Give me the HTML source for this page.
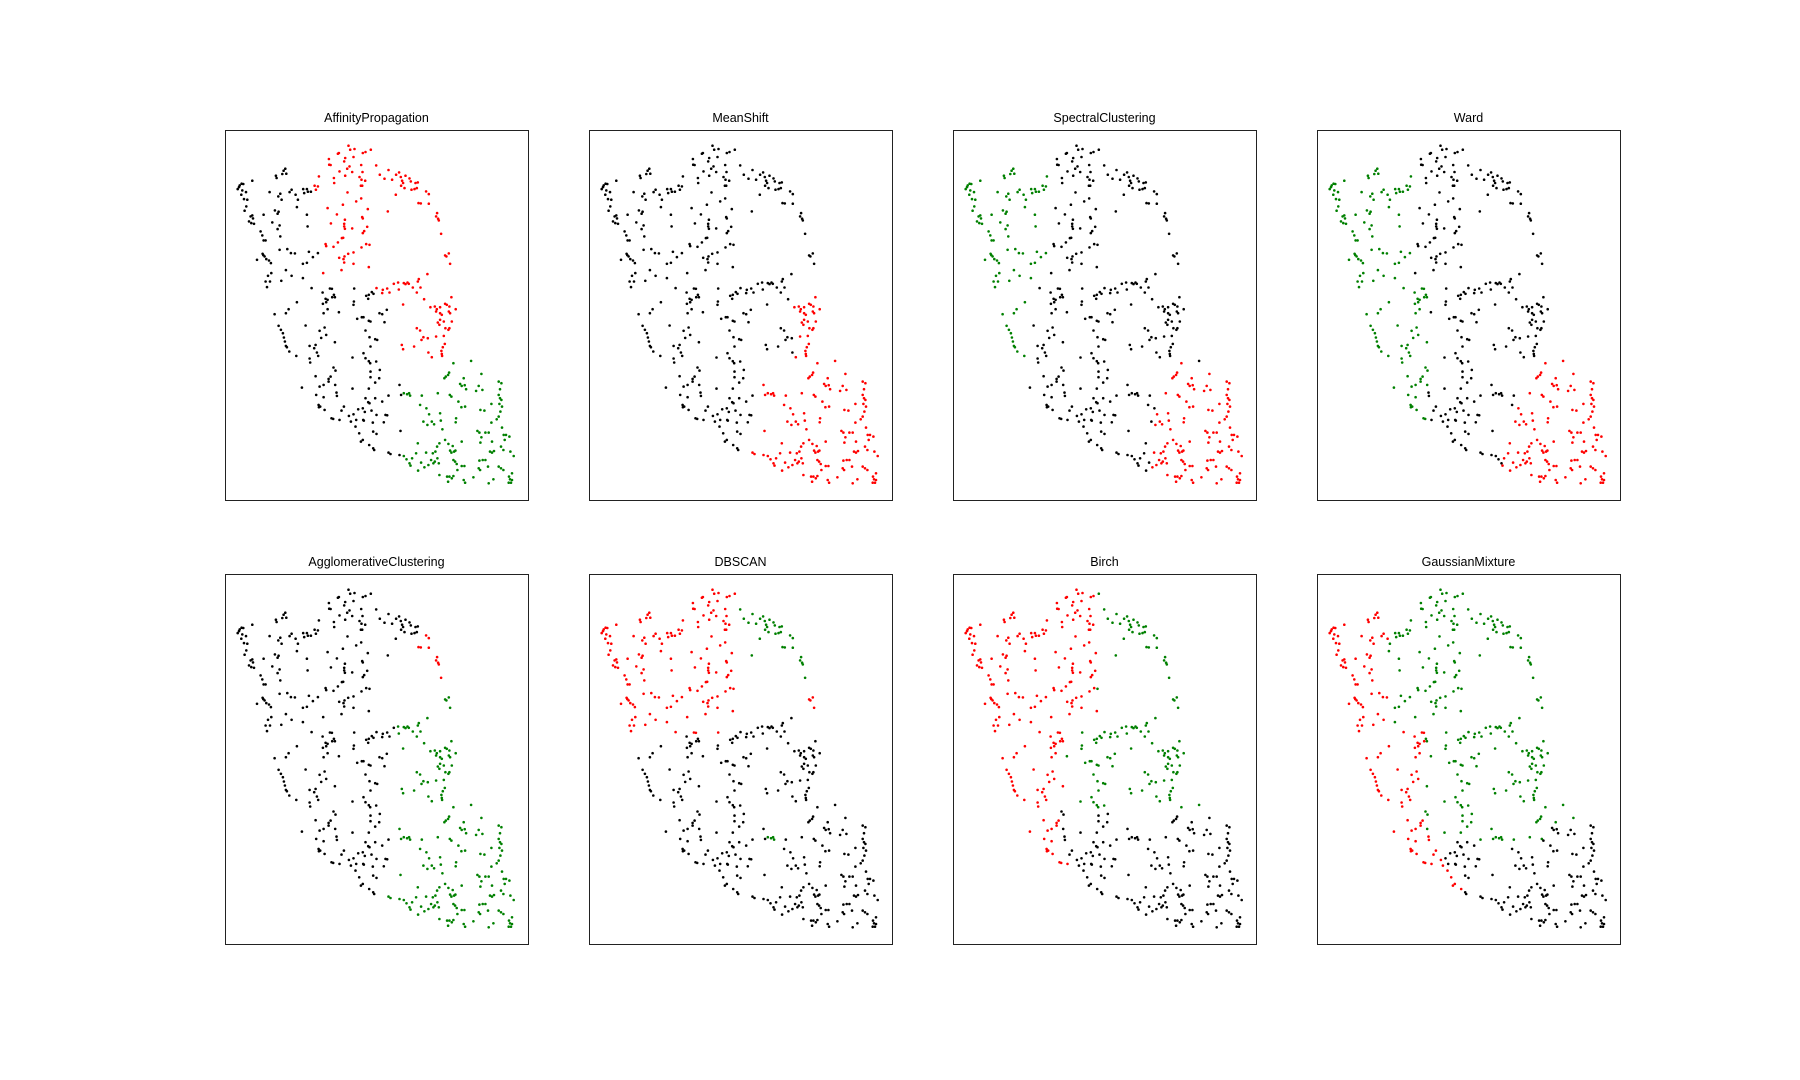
<!DOCTYPE html>
<html><head><meta charset="utf-8"><style>
html,body{margin:0;padding:0;background:#fff;}
svg{display:block;}
text{font-family:"Liberation Sans","DejaVu Sans",sans-serif;}
</style></head><body>
<svg id="fig" width="1800" height="1080" viewBox="0 0 1800 1080" xmlns="http://www.w3.org/2000/svg"></svg>
<script>
const titles = ["AffinityPropagation","MeanShift","SpectralClustering","Ward","AgglomerativeClustering","DBSCAN","Birch","GaussianMixture"];
const xDomain = [76, 986];
const yDomain = [91, 1200];
const points = [
[447,138],[452,150],[465,148],[415,162],[418,160],[498,157],[490,160],[514,150],[437,175],[462,172],[388,178],[434,185],[389,195],[393,196],[450,200],[485,196],[530,197],[420,215],[443,207],[458,217],[489,217],[437,228],[403,235],[480,232],[497,243],[486,240],[404,250],[488,258],[484,258],[358,230],[345,258],[355,260],[349,270],[541,225],[555,237],[567,211],[578,240],[590,225],[599,218],[604,232],[608,243],[618,228],[611,250],[605,258],[630,236],[634,245],[648,250],[655,248],[645,268],[652,265],[615,265],[636,270],[589,285],[680,275],[688,283],[657,310],[664,311],[688,312],[713,340],[710,350],[716,357],[718,362],[444,278],[485,296],[470,305],[430,315],[384,325],[505,328],[412,344],[565,335],[488,352],[490,356],[394,371],[436,360],[434,372],[434,380],[458,386],[503,381],[490,400],[494,394],[436,387],[725,402],[427,415],[431,414],[378,433],[380,439],[402,441],[415,428],[500,433],[510,435],[486,443],[462,458],[446,462],[435,470],[419,474],[432,478],[434,488],[462,492],[508,502],[426,511],[371,520],[737,467],[741,470],[748,461],[752,492],[684,523],
[531,565],[550,570],[548,580],[563,566],[570,578],[583,552],[596,548],[598,569],[613,550],[618,553],[624,548],[628,552],[640,563],[655,545],[658,538],[652,578],[663,563],[611,614],[674,598],[693,622],[706,620],[712,628],[710,635],[722,622],[737,612],[742,615],[750,620],[756,592],[769,628],[722,640],[727,645],[748,635],[752,640],[757,665],[733,665],[722,660],[715,668],[720,675],[738,685],[747,690],[750,685],[652,685],[662,692],[666,720],[672,712],[685,715],[710,710],[733,708],[736,732],[730,742],[726,753],[727,762],[728,768],[607,735],[611,748],[644,740],[687,758],[697,772],
[120,257],[126,252],[131,253],[118,262],[114,268],[128,272],[139,277],[125,285],[133,298],[143,300],[140,320],[135,333],[158,347],[153,350],[160,356],[148,365],[155,370],[163,372],[158,243],[229,228],[231,235],[252,213],[257,207],[248,223],[260,222],[210,277],[242,282],[236,290],[270,277],[276,270],[288,285],[295,300],[292,322],[311,268],[322,268],[314,280],[325,276],[334,276],[246,300],[226,332],[234,342],[237,336],[192,345],[218,368],[240,377],[234,388],[322,345],[324,380],[242,410],[183,395],[188,407],[192,422],[198,422],[189,462],[191,466],[195,470],[200,478],[172,480],[208,482],[214,490],[240,450],[263,448],[274,460],[286,461],[328,456],[355,460],[322,489],[310,492],[340,472],[259,511],[276,528],[310,535],[215,520],[205,528],[211,545],[198,545],[202,562],[245,543],[225,643],[267,628],[259,640],[292,607],[336,565],[369,578],[391,566],[397,567],[403,585],[378,597],[384,600],[380,607],[370,612],[398,592],[406,592],[372,640],[384,628],[418,637],[464,566],[463,605],[462,615],[500,588],[508,585],[517,577],[522,582],[506,597],[473,657],[487,652],[492,652],[508,663],[513,665],[540,640],[548,643],[555,667],[562,630],[237,678],[244,690],[250,700],[253,713],[256,725],[259,738],[262,742],[269,755],[290,768],[318,677],[360,693],[375,683],[380,705],[365,714],[330,738],[348,735],[344,745],[352,758],[356,768],[330,776],[332,788],[406,727],[498,692],[510,712],[527,718],[533,720],[513,740],[459,773],[492,760],[498,775],[508,784],[512,790],[530,785],[541,810],[539,835],[513,815],[513,832],[527,848],[508,866],[402,803],[408,812],[393,830],[387,837],[348,829],[360,860],[372,855],[387,845],[407,855],[307,863],[411,878],[412,888],[350,885],[372,892],[459,866],[357,915],[362,920],[375,930],[358,922],[433,920],[426,932],[448,948],[462,943],[476,928],[490,925],[496,936],[506,907],[510,910],[516,932],[527,895],[548,905],[567,887],[600,855],[605,885],[498,895],[396,955],[401,957],[420,960],[454,965],[470,960],[491,960],[493,962],[531,945],[558,945],[563,946],[520,968],[553,967],[468,980],[479,1000],[521,995],[531,1002],[490,1020],[484,1025],[509,1035],[521,1045],[524,1050],[603,993],[567,1058],[573,1062],
[613,880],[623,883],[629,880],[632,887],[662,915],[667,887],[681,925],[689,943],[672,965],[684,975],[697,965],[704,973],[715,880],[722,940],[724,962],[729,988],[746,825],[739,830],[735,835],[749,818],[762,790],[815,783],[793,835],[782,852],[787,858],[796,856],[800,868],[846,822],[838,858],[830,873],[849,870],[751,885],[756,890],[777,905],[786,922],[797,920],[770,955],[769,967],[898,845],[906,850],[902,868],[898,885],[902,895],[906,900],[900,912],[908,920],[903,935],[898,950],[892,958],[876,912],[843,930],[855,932],[876,968],[908,983],[913,1005],[834,993],[840,998],[858,998],[868,998],[846,1012],[878,1025],[905,1040],[912,1050],[843,1028],[872,1055],[878,1058],[884,1053],[920,1005],[930,1010],[916,1020],[933,1055],[943,1068],[850,1080],[840,1082],[858,1080],[866,1100],[838,1105],[842,1110],[898,1100],[905,1105],[912,1110],[938,1120],[929,1130],[932,1138],[938,1140],[928,1148],[935,1148],[882,1138],[868,1150],[822,1132],[793,1140],[797,1148],[774,1110],[772,1092],[762,1080],[767,1085],[787,1098],[795,1098],[787,1025],[760,1038],[764,1055],[752,1052],[756,1058],[768,1052],[737,1020],[747,1032],[720,1030],[713,1040],[708,1055],[700,1060],[714,1075],[706,1085],[718,1090],[720,1125],[743,1130],[746,1145],[750,1130],[757,1135],[762,1128],[655,1030],[680,1058],[650,1060],[638,1075],[621,1078],[613,1068],[600,1065],[630,1090],[633,1097],[656,1112],[665,1088],[675,1102],[687,1095],[695,1080],[702,1090]
];
const colors = {k:"#000000", r:"#ff0000", g:"#008000"};
const panelLefts = [225, 589, 953, 1317];
const panelTops = [130, 574];
const PW = 303, PH = 370;

const labelRules = [
 (x,y)=> (y>=780 && x>=610) ? 'g' : ((y<540 && x>365) || (y<275 && x>340) || (y<780 && x>600) || (y<600 && x>525)) ? 'r' : 'k',
 (x,y)=> ((y>=580 && x>=690) || (y>=780 && x>=595) || (y>=1040 && x>=560)) ? 'r' : 'k',
 (x,y)=> ((y<560 && x<360) || (y>=560 && y<780 && x<300)) ? 'g' : (y>=790 && x >= 700-(y-800)*0.1) ? 'r' : 'k',
 (x,y)=> ((y<560 && x<360) || (y>=560 && y<960 && x<410)) ? 'g' : (y>=780 && x >= 690-(y-800)*0.2) ? 'r' : 'k',
 (x,y)=> (x>650 && y<420 && y>265) ? 'r' : ((y>440 && x>=595) || (y>1040 && x>=560)) ? 'g' : 'k',
 (x,y)=> ((y<568 && x<530) || (x>720 && y>440 && y<530)) ? 'r' : ((y<440 && x>=530) || (x>=610 && x<=635 && y>=875 && y<=892)) ? 'g' : 'k',
 (x,y)=> y<532 ? (x<510 ? 'r':'g') : (y<800 ? (x<410 ? 'r':'g') : (x < 390+(y-800)*0.2 ? 'r':'k')),
 (x,y)=> (y<560 ? x<290 : x < 400+Math.max(0,y-850)*0.6) ? 'r' : (y>=890 || (y>=840 && x>=780)) ? 'k' : 'g'
];

const NS = "http://www.w3.org/2000/svg";
const svg = document.getElementById('fig');
function mk(tag, attrs){const e=document.createElementNS(NS,tag);for(const k in attrs)e.setAttribute(k,attrs[k]);return e;}

titles.forEach((t,i)=>{
  const left = panelLefts[i%4], top = panelTops[Math.floor(i/4)];
  const sx = v => left + (v - xDomain[0])/(xDomain[1]-xDomain[0])*PW;
  const sy = v => top + (v - yDomain[0])/(yDomain[1]-yDomain[0])*PH;
  const g = mk('g',{});
  
  
  const title = mk('text',{x:left+PW/2, y:top-8, 'text-anchor':'middle','font-size':'12.5',fill:'#000'});
  title.textContent = t;
  
  
  g.appendChild(title);
  const pts = mk('g',{});
  
  
  points.forEach(p=>{
    const c = mk('circle',{cx:sx(p[0]).toFixed(1), cy:sy(p[1]).toFixed(1), r:1.3, fill:colors[labelRules[i](p[0],p[1])]});
    
    
    pts.appendChild(c);
  });
  g.appendChild(pts);
  const frame = mk('rect',{x:left+0.5, y:top+0.5, width:PW, height:PH, fill:'none', stroke:'#222', 'stroke-width':1});
  
  
  g.appendChild(frame);
  svg.appendChild(g);
});
</script>
</body></html>
